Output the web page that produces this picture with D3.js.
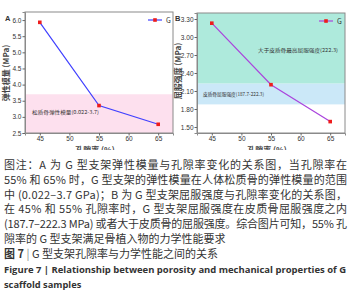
<!DOCTYPE html>
<html>
<head>
<meta charset="utf-8">
<title>G scaffold porosity vs mechanical properties</title>
<script src="https://cdn.jsdelivr.net/npm/d3@7/dist/d3.min.js"></script>
<style>
  body { margin: 0; background: #fff; }
  svg { display: block; font-family: "Noto Sans CJK SC", "Noto Sans", sans-serif; }
</style>
</head>
<body>
<script>
// data
var porosity = [45, 55, 65];
var modulusG = [5.93, 3.35, 2.77];     // GPa
var yieldG = [323, 220.5, 159];        // MPa
var xTicks = [45, 50, 55, 60, 65];
var modTicks = [2.5, 3.0, 3.5, 4.0, 4.5, 5.0, 5.5, 6.0];
var yieldTicks = [150, 180, 210, 240, 270, 300, 330];
var cancellousBand = [0.022, 3.7];
var corticalBand = [187.7, 222.3];

var caption = [
  "图注：A 为 G 型支架弹性模量与孔隙率变化的关系图，当孔隙率在",
  "55% 和 65% 时，G 型支架的弹性模量在人体松质骨的弹性模量的范围",
  "中 (0.022–3.7 GPa)；B 为 G 型支架屈服强度与孔隙率变化的关系图，",
  "在 45% 和 55% 孔隙率时，G 型支架屈服强度在皮质骨屈服强度之内",
  "(187.7–222.3 MPa) 或者大于皮质骨的屈服强度。综合图片可知，55% 孔",
  "隙率的 G 型支架满足骨植入物的力学性能要求"
];

var W = 352, H = 300;
var svg = d3.select("body").append("svg").attr("width", W).attr("height", H);

svg.append("defs").append("clipPath").attr("id", "top")
   .append("rect").attr("x", 0).attr("y", 0).attr("width", W).attr("height", 150);

var charts = svg.append("g").attr("clip-path", "url(#top)");

function drawChart(o) {
    var g = charts.append("g");
    var x = d3.scaleLinear().domain([42.5, 67.5]).range([o.left, o.right]);
    var y = d3.scaleLinear().domain(o.domain).range([133, o.top]);

    // bands
    o.bands.forEach(function(b) {
        var lo = Math.max(b.from, o.domain[0]), hi = Math.min(b.to, o.domain[1]);
        g.append("rect")
         .attr("x", o.left).attr("width", o.right - o.left)
         .attr("y", y(hi)).attr("height", y(lo) - y(hi))
         .attr("fill", b.color);
    });

    // frame
    g.append("rect").attr("x", o.left).attr("y", o.top)
     .attr("width", o.right - o.left).attr("height", 133 - o.top)
     .attr("fill", "none").attr("stroke", "#8a8a8a").attr("stroke-width", 1);

    var xa = g.append("g").attr("transform", "translate(0,133)")
       .call(d3.axisBottom(x).tickValues(xTicks).tickSize(2.5).tickPadding(1));
    var ya = g.append("g").attr("transform", "translate(" + o.left + ",0)")
       .call(d3.axisLeft(y).tickValues(o.ticks).tickSize(2.5).tickPadding(1).tickFormat(o.fmt));
    [xa, ya].forEach(function(a) {
        a.select(".domain").attr("stroke", "#8a8a8a");
        a.selectAll(".tick line").attr("stroke", "#666");
        a.selectAll("text").attr("font-size", 6.5).attr("fill", "#333")
         .attr("font-family", "Liberation Sans, Arial, sans-serif");
    });

    // band labels
    o.notes.forEach(function(n) {
        g.append("text").attr("x", n.x).attr("y", n.y)
         .attr("font-size", 5).attr("fill", "#333")
         .attr("textLength", n.w).attr("lengthAdjust", "spacingAndGlyphs")
         .text(n.t);
    });

    // series
    var line = d3.line().x(function(d, i) { return x(porosity[i]); })
                        .y(function(d) { return y(d); });
    g.append("path").datum(o.values).attr("d", line)
     .attr("fill", "none").attr("stroke", o.color).attr("stroke-width", 1.2);
    g.selectAll(".pt").data(o.values).enter().append("rect")
     .attr("x", function(d, i) { return x(porosity[i]) - 1.8; })
     .attr("y", function(d) { return y(d) - 1.8; })
     .attr("width", 3.6).attr("height", 3.6).attr("fill", "#ee1c1c");

    // legend
    g.append("line").attr("x1", o.leg[0]).attr("x2", o.leg[0] + 14)
     .attr("y1", o.leg[1]).attr("y2", o.leg[1])
     .attr("stroke", o.color).attr("stroke-width", 1.2);
    g.append("rect").attr("x", o.leg[0] + 5.2).attr("y", o.leg[1] - 1.8)
     .attr("width", 3.6).attr("height", 3.6).attr("fill", "#ee1c1c");
    g.append("text").attr("x", o.leg[0] + 18).attr("y", o.leg[1] + 2.5)
     .attr("font-size", 7).attr("fill", "#333").text("G");

    // titles
    g.append("text").attr("x", o.letter[0]).attr("y", o.letter[1])
     .attr("font-size", 7.5).attr("font-weight", "bold").attr("fill", "#333")
     .attr("font-family", "Liberation Sans, Arial, sans-serif").text(o.name);
    g.append("text")
     .attr("transform", "translate(" + o.ylab[0] + "," + o.ylab[1] + ") rotate(-90)")
     .attr("text-anchor", "middle").attr("font-size", 8).attr("font-weight", "bold")
     .attr("fill", "#444").text(o.ytitle);
    g.append("text").attr("x", (o.left + o.right) / 2 - 4).attr("y", 153)
     .attr("text-anchor", "middle").attr("font-size", 8).attr("font-weight", "bold")
     .attr("fill", "#444").text("孔隙率 (%)");
}

drawChart({
    name: "A", left: 25, right: 173, top: 12, domain: [2.5, 6.25],
    ticks: modTicks, fmt: d3.format(".1f"), values: modulusG, color: "#4040ff",
    bands: [{ from: cancellousBand[0], to: cancellousBand[1], color: "#fde0ee" }],
    notes: [{ x: 32, y: 114, w: 67, t: "松质骨弹性模量(0.022-3.7)" }],
    leg: [148, 20], letter: [5, 21], ylab: [9, 73], ytitle: "弹性模量 (MPa)"
});

drawChart({
    name: "B", left: 197, right: 345, top: 13, domain: [140, 340],
    ticks: yieldTicks, fmt: function(d) { return (d / 100).toFixed(2); },
    values: yieldG, color: "#aa44dd",
    bands: [{ from: corticalBand[1], to: 340, color: "#aeeadc" },
            { from: corticalBand[0], to: corticalBand[1], color: "#cbe8f8" }],
    notes: [{ x: 258, y: 52, w: 80, t: "大于皮质骨最高屈服强度(222.3)" },
            { x: 203, y: 96, w: 61, t: "皮质骨屈服强度(187.7-222.3)" }],
    leg: [319, 21], letter: [175, 21], ylab: [181, 71], ytitle: "屈服强度 (MPa)"
});

// caption
var cap = svg.append("g").attr("fill", "#333").attr("font-size", 11);
caption.forEach(function(t, i) {
    var tx = cap.append("text").attr("x", 4).attr("y", 169 + i * 14.8).text(t);
    if (i < caption.length - 1) tx.attr("textLength", 343).attr("lengthAdjust", "spacing");
});
var fig = cap.append("text").attr("x", 4).attr("y", 258);
fig.append("tspan").attr("font-weight", "bold").text("图 7");
fig.append("tspan").attr("fill", "#888").text(" | ");
fig.append("tspan").text("G 型支架孔隙率与力学性能之间的关系");

var en = svg.append("g").attr("fill", "#333").attr("font-size", 9.3).attr("font-weight", "bold")
   .attr("font-family", "Open Sans, Noto Sans, sans-serif");
en.append("text").attr("x", 4).attr("y", 273).attr("textLength", 342).attr("lengthAdjust", "spacingAndGlyphs")
  .text("Figure 7 | Relationship between porosity and mechanical properties of G");
en.append("text").attr("x", 4).attr("y", 288).text("scaffold samples");
</script>
</body>
</html>
